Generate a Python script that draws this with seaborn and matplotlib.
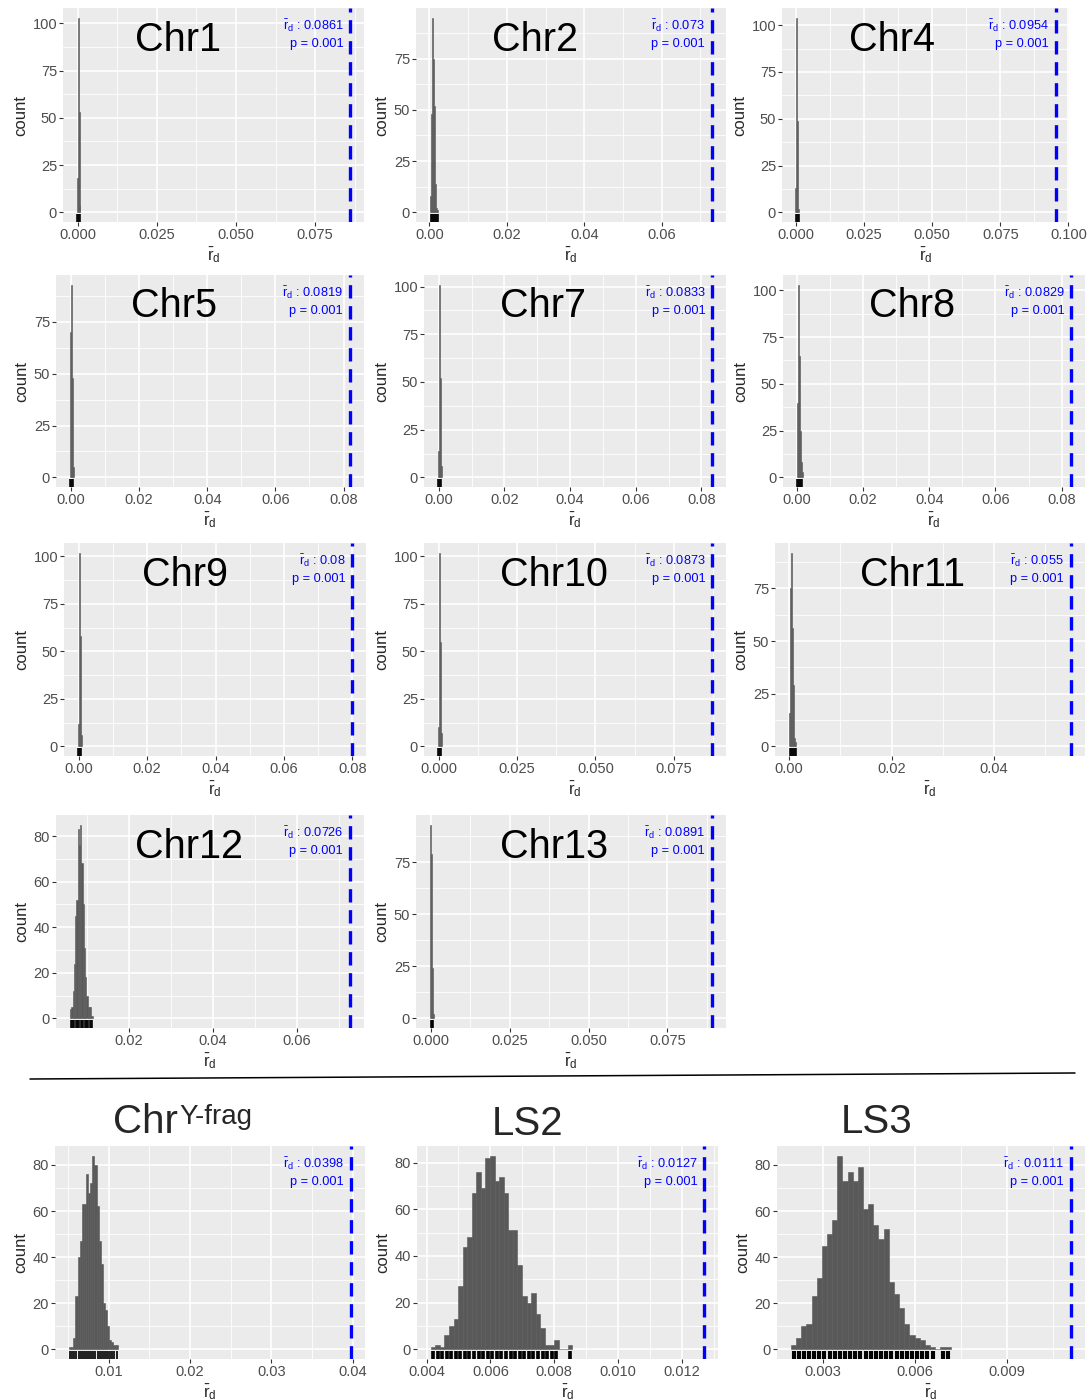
import numpy as np
import pandas as pd
import matplotlib
matplotlib.use("Agg")
import matplotlib.pyplot as plt
from matplotlib.ticker import AutoMinorLocator
from matplotlib.lines import Line2D
import seaborn as sns

# permutation histograms: first bin edge, bin width, counts per bin
names = ["Chr1", "Chr2", "Chr4", "Chr5", "Chr7", "Chr8", "Chr9", "Chr10", "Chr11",
         "Chr12", "Chr13", "ChrY", "LS2", "LS3"]
obs_rd = [0.0861, 0.073, 0.0954, 0.0819, 0.0833, 0.0829, 0.08, 0.0873, 0.055,
          0.0726, 0.0891, 0.0398, 0.0127, 0.0111]
obs_labels = ["0.0861", "0.073", "0.0954", "0.0819", "0.0833", "0.0829", "0.08", "0.0873",
              "0.055", "0.0726", "0.0891", "0.0398", "0.0127", "0.0111"]
p_value = "0.001"
bin_start = [-0.0003, 0.00017, -0.00037, -0.00029, -0.0003, 0.0, -0.0003, -0.00032, 0.0,
             0.0060, -0.0002, 0.0051, 0.00413, 0.00196]
bin_width = [0.0003, 0.00026, 0.00037, 0.00029, 0.0003, 0.0003, 0.00029, 0.00032, 0.0002,
             0.0003, 0.0003, 0.00026, 0.000143, 0.000168]

counts_chr1 = [18, 103, 53, 4]
counts_chr2 = [8, 48, 95, 75, 52, 14, 2, 1]
counts_chr4 = [13, 104, 49, 2]
counts_chr5 = [70, 93, 48, 5]
counts_chr7 = [14, 101, 52, 6]
counts_chr8 = [40, 103, 65, 25, 8, 3]
counts_chr9 = [12, 102, 58, 6]
counts_chr10 = [10, 102, 55, 7]
counts_chr11 = [16, 75, 92, 56, 29, 4, 2]
counts_chr12 = [4, 5, 12, 24, 45, 52, 83, 76, 85, 68, 50, 31, 18, 10, 5, 5, 5, 1]
counts_chr13 = [93, 79, 24, 2]
counts_chry = [1, 1, 5, 23, 40, 47, 63, 63, 76, 68, 72, 84, 80, 62, 47, 37, 20, 17, 10,
               4, 3, 2, 2]
counts_ls2 = [1, 2, 1, 6, 10, 13, 27, 44, 48, 67, 76, 69, 82, 83, 72, 74, 67, 51, 51, 36,
              23, 20, 24, 15, 9, 2, 2, 4, 0, 0, 2]
counts_ls3 = [2, 5, 10, 11, 23, 31, 45, 50, 56, 84, 73, 77, 73, 79, 61, 63, 54, 48, 52, 29,
              24, 18, 11, 6, 5, 4, 2, 1, 0, 1, 1]
all_counts = [counts_chr1, counts_chr2, counts_chr4, counts_chr5, counts_chr7, counts_chr8,
              counts_chr9, counts_chr10, counts_chr11, counts_chr12, counts_chr13,
              counts_chry, counts_ls2, counts_ls3]

x_ticks = [[0, 0.025, 0.05, 0.075], [0, 0.02, 0.04, 0.06], [0, 0.025, 0.05, 0.075, 0.1],
           [0, 0.02, 0.04, 0.06, 0.08], [0, 0.02, 0.04, 0.06, 0.08], [0, 0.02, 0.04, 0.06, 0.08],
           [0, 0.02, 0.04, 0.06, 0.08], [0, 0.025, 0.05, 0.075], [0, 0.02, 0.04],
           [0.02, 0.04, 0.06], [0, 0.025, 0.05, 0.075], [0.01, 0.02, 0.03, 0.04],
           [0.004, 0.006, 0.008, 0.010, 0.012], [0.003, 0.006, 0.009]]
x_ticklabels = [["0.000", "0.025", "0.050", "0.075"], ["0.00", "0.02", "0.04", "0.06"],
                ["0.000", "0.025", "0.050", "0.075", "0.100"],
                ["0.00", "0.02", "0.04", "0.06", "0.08"], ["0.00", "0.02", "0.04", "0.06", "0.08"],
                ["0.00", "0.02", "0.04", "0.06", "0.08"], ["0.00", "0.02", "0.04", "0.06", "0.08"],
                ["0.000", "0.025", "0.050", "0.075"], ["0.00", "0.02", "0.04"],
                ["0.02", "0.04", "0.06"], ["0.000", "0.025", "0.050", "0.075"],
                ["0.01", "0.02", "0.03", "0.04"],
                ["0.004", "0.006", "0.008", "0.010", "0.012"], ["0.003", "0.006", "0.009"]]
y_ticks = [[0, 25, 50, 75, 100], [0, 25, 50, 75], [0, 25, 50, 75, 100], [0, 25, 50, 75],
           [0, 25, 50, 75, 100], [0, 25, 50, 75, 100], [0, 25, 50, 75, 100],
           [0, 25, 50, 75, 100], [0, 25, 50, 75], [0, 20, 40, 60, 80], [0, 25, 50, 75],
           [0, 20, 40, 60, 80], [0, 20, 40, 60, 80], [0, 20, 40, 60, 80]]

# panel boxes in pixels (left, top, right, bottom) and left edge of the in-panel titles
boxes = [(63, 8, 364, 222), (416, 8, 726, 222), (782, 8, 1069, 222),
         (56, 275, 364, 487), (424, 275, 726, 487), (783, 275, 1085, 487),
         (64, 543, 366, 756), (424, 543, 726, 756), (775, 543, 1085, 756),
         (56, 815, 364, 1028), (416, 815, 726, 1028),
         (55, 1146, 365, 1359), (417, 1146, 718, 1359), (777, 1146, 1085, 1359)]
title_left = [135, 492, 849, 131, 500, 869, 142, 500, 860, 135, 500]

W, H = 1087, 1400
sns.set_style("darkgrid", {"axes.facecolor": "#EBEBEB", "grid.color": "white"})
plt.rcParams['font.family'] = ['Liberation Sans', 'DejaVu Sans']
plt.rcParams['mathtext.fontset'] = 'custom'
plt.rcParams['mathtext.rm'] = 'Liberation Sans'
plt.rcParams['mathtext.it'] = 'Liberation Sans'
plt.rcParams['mathtext.default'] = 'regular'

fig = plt.figure(figsize=(W / 100, H / 100), dpi=100)
rd = r"$\bar{\mathrm{r}}_{\mathrm{d}}$"

for i, name in enumerate(names):
    L, T, R, B = boxes[i]
    ax = fig.add_axes([L / W, 1 - B / H, (R - L) / W, (B - T) / H])
    counts = np.asarray(all_counts[i], dtype=float)
    edges = bin_start[i] + bin_width[i] * np.arange(len(counts) + 1)
    centers = edges[:-1] + bin_width[i] / 2
    df = pd.DataFrame({"rd": centers, "n": counts})
    sns.histplot(data=df, x="rd", weights="n", bins=list(edges), color="#595959", alpha=1,
                 edgecolor="#595959", linewidth=0.4, ax=ax)
    lo, hi = edges[0], max(edges[-1], obs_rd[i])
    span = hi - lo
    ax.set_xlim(lo - 0.05 * span, hi + 0.05 * span)
    ax.set_ylim(-0.05 * counts.max(), 1.05 * counts.max())

    # rug width follows the bin width in pixels
    bin_px = bin_width[i] / (1.1 * span) * (R - L)
    rug_lw = max(1.6, 0.8 * bin_px) * 0.72
    sns.rugplot(x=centers[counts > 0], height=0.037, color="black", linewidth=rug_lw,
                expand_margins=False, ax=ax)

    ax.axvline(obs_rd[i], color="blue", lw=2.4, ls=(0, (4, 2.3)), zorder=5)
    ax.annotate(rd + " : " + obs_labels[i], xy=(obs_rd[i], 0.915),
                xycoords=("data", "axes fraction"), xytext=(-5, 0), textcoords="offset points",
                ha="right", va="center", color="blue", fontsize=9.2)
    ax.annotate("p = " + p_value, xy=(obs_rd[i], 0.83),
                xycoords=("data", "axes fraction"), xytext=(-5, 0), textcoords="offset points",
                ha="right", va="center", color="blue", fontsize=9.2)

    ax.set_xticks(x_ticks[i])
    ax.set_xticklabels(x_ticklabels[i])
    ax.set_yticks(y_ticks[i])
    ax.xaxis.set_minor_locator(AutoMinorLocator(2))
    ax.yaxis.set_minor_locator(AutoMinorLocator(2))
    ax.grid(which="major", color="white", lw=1.2)
    ax.grid(which="minor", color="white", lw=0.6)
    ax.set_axisbelow(True)
    ax.tick_params(which="major", length=2.7, width=0.8, color="#333333",
                   labelcolor="#4D4D4D", labelsize=10.5, pad=1.6, bottom=True, left=True)
    ax.tick_params(which="minor", length=0)
    for s in ax.spines.values():
        s.set_visible(False)
    ax.set_xlabel(rd, fontsize=12, labelpad=2)
    ax.set_ylabel("count", fontsize=12, labelpad=3)

    if i < 11:
        fig.text(title_left[i] / W, 1 - (T + 0.2 * (B - T)) / H, name, ha="left",
                 va="baseline", fontsize=28.5, color="black")

# titles of the bottom row sit above the panels
chr_txt = fig.text(113 / W, 1 - 1133 / H, "Chr", ha="left", va="baseline", fontsize=29)
fig.add_artist(plt.Annotation("Y-frag", xy=(1, 1), xycoords=chr_txt, xytext=(1, -1),
                              textcoords="offset points", ha="left", va="top", fontsize=20))
fig.text(528 / W, 1 - 1135 / H, "LS2", ha="center", va="baseline", fontsize=29)
fig.text(877 / W, 1 - 1133 / H, "LS3", ha="center", va="baseline", fontsize=29)

# separator between the chromosome panels and the bottom row
fig.add_artist(Line2D([30 / W, 1075 / W], [1 - 1079 / H, 1 - 1073 / H], color="black", lw=1.1))

fig.savefig("out.png", dpi=100)
